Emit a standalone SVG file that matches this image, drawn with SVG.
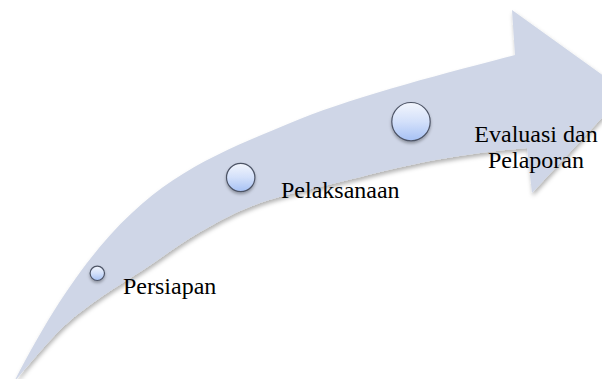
<svg xmlns="http://www.w3.org/2000/svg" width="602" height="379" viewBox="0 0 602 379">
  <style>
    .lbl { font-family: "Liberation Serif", "Times New Roman", "DejaVu Serif", serif; font-size: 24px; fill: #000; }
    .dot { fill: url(#dotGrad); stroke: #4d5466; stroke-width: 1.2; filter: url(#dotShadow); }
  </style>
  <defs>
    <linearGradient id="dotGrad" x1="0" y1="0" x2="0" y2="1">
      <stop offset="0" stop-color="#f3f6fd"/>
      <stop offset="0.5" stop-color="#d3e0fa"/>
      <stop offset="1" stop-color="#a6c1f4"/>
    </linearGradient>
    <filter id="arrowShadow" x="-10%" y="-10%" width="120%" height="130%">
      <feDropShadow dx="1" dy="3" stdDeviation="2" flood-color="#000" flood-opacity="0.3"/>
    </filter>
    <filter id="dotShadow" x="-50%" y="-50%" width="200%" height="220%">
      <feDropShadow dx="0" dy="2" stdDeviation="1.5" flood-color="#000" flood-opacity="0.3"/>
    </filter>
  </defs>

  <g id="arrow">
    <path fill="#cfd6e7" filter="url(#arrowShadow)" d="M14,382
      C114,187 190,165.2 300,119
      C360,95 450,72 515,55
      L512,10 L626,92 L532,193 L527,148
      C511.3,149.7 497.8,150.5 480,153
      C462.2,155.5 443.3,158.2 420,163
      C396.7,167.8 366.7,175.3 340,182
      C313.3,188.7 283.3,194.7 260,203
      C236.7,211.3 219.5,220.8 200,232
      C180.5,243.2 160.2,258.7 143,270
      C125.8,281.3 110.8,290 97,300
      C83.2,310 73.5,316.8 60,330
      C46.5,343.2 30.7,362.7 14,382 Z"/>
  </g>

  <g id="step-persiapan">
    <circle class="dot" cx="97.3" cy="273.3" r="7.2"/>
    <text class="lbl" x="123" y="294">Persiapan</text>
  </g>

  <g id="step-pelaksanaan">
    <circle class="dot" cx="240.7" cy="177.5" r="14.2"/>
    <text class="lbl" x="281" y="198">Pelaksanaan</text>
  </g>

  <g id="step-evaluasi">
    <circle class="dot" cx="411" cy="121.7" r="19.2"/>
    <text class="lbl" text-anchor="middle" x="536" y="142">Evaluasi dan</text>
    <text class="lbl" text-anchor="middle" x="536" y="168">Pelaporan</text>
  </g>

  <g id="connectors"></g>
</svg>
